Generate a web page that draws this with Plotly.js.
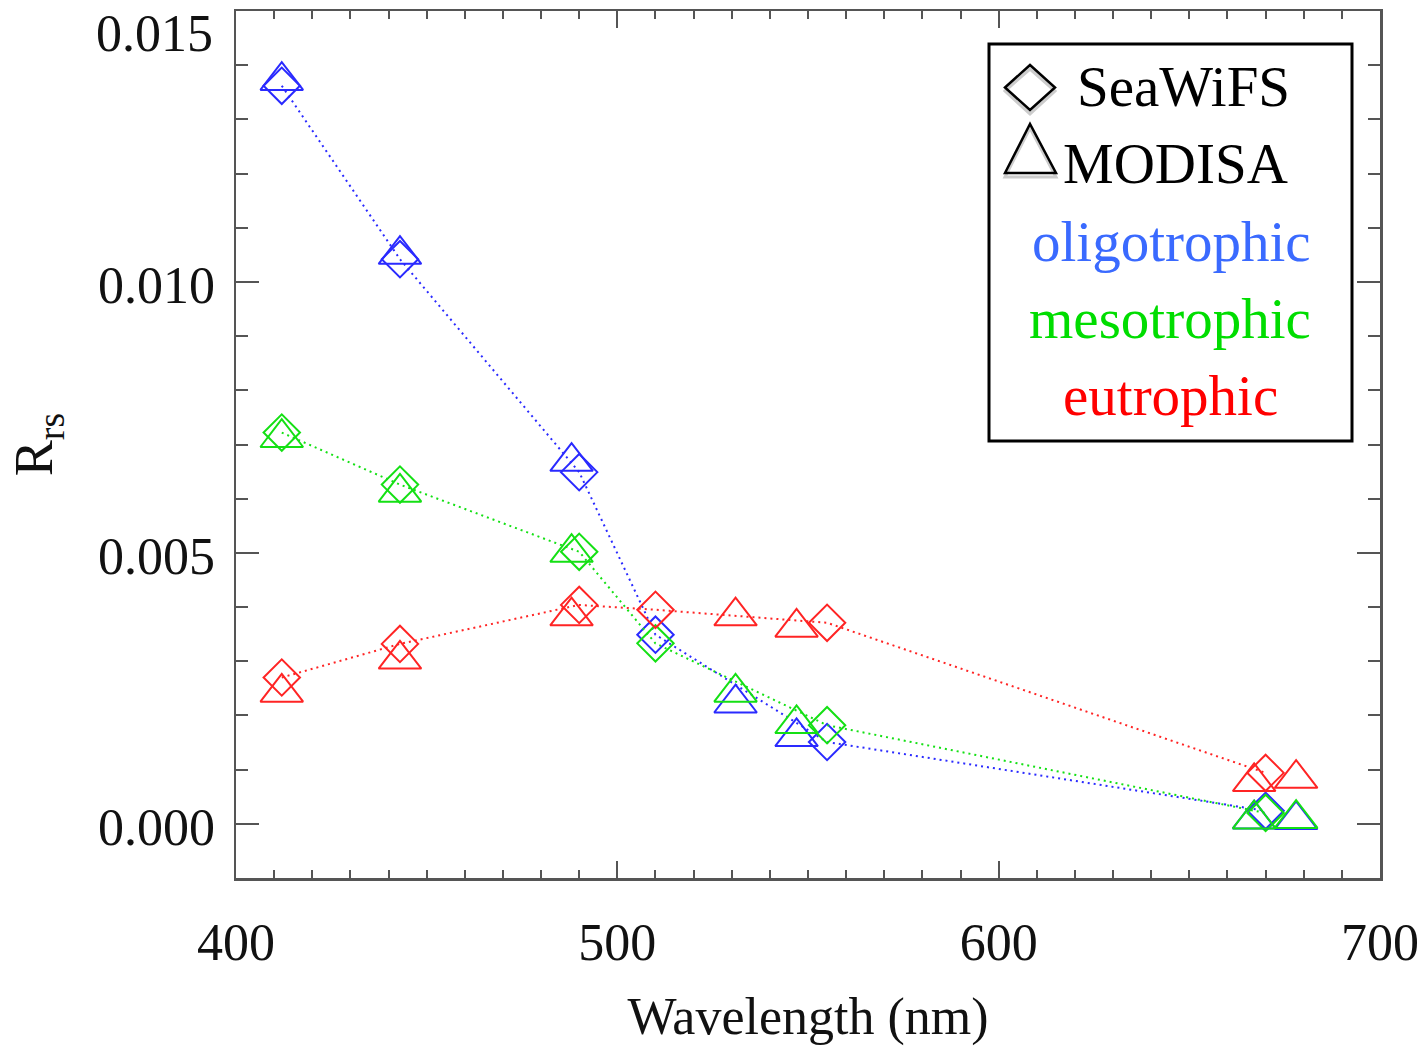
<!DOCTYPE html>
<html>
<head>
<meta charset="utf-8">
<script src="https://cdn.plot.ly/plotly-3.0.1.min.js"></script>
<style>html,body{margin:0;padding:0;background:#fff;}#chart{width:1428px;height:1046px;}</style>
</head>
<body>
<div id="chart"></div>
<script>
// ---- data ----
const wavelengthSeaWiFS = [412, 443, 490, 510, 555, 670];
const wavelengthMODISA  = [412, 443, 488, 531, 547, 667, 678];

const seawifsOligotrophic = [0.01362, 0.01042, 0.00649, 0.00349, 0.00151, 0.00024];
const seawifsMesotrophic  = [0.00722, 0.00626, 0.00502, 0.00333, 0.00182, 0.00020];
const seawifsEutrophic    = [0.00270, 0.00332, 0.00404, 0.00395, 0.00371, 0.00094];

const modisaOligotrophic = [0.01380, 0.01059, 0.00677, 0.00231, 0.00169, 0.00017, 0.00016];
const modisaMesotrophic  = [0.00721, 0.00620, 0.00509, 0.00251, 0.00193, 0.00017, 0.00018];
const modisaEutrophic    = [0.00251, 0.00312, 0.00392, 0.00392, 0.00371, 0.00086, 0.00092];

const classNames = ['oligotrophic', 'mesotrophic', 'eutrophic'];
const sensorNames = ['SeaWiFS', 'MODISA'];
const yTickValues = [0.000, 0.005, 0.010];
const yTickLabels = ['0.000', '0.005', '0.010'];
const yTopTickValue = 0.015;
const yTopTickLabel = '0.015';
const xTickValues = [400, 500, 600, 700];
const xTickLabels = ['400', '500', '600', '700'];

// ---- styling / layout ----
const markerColors = ['#2a2aff', '#14e014', '#ff2424'];
const textColors = ['#3a6aff', '#00dd00', '#ff0000'];
const FONT = '"Liberation Serif", "Times New Roman", serif';
const axisGray = '#555555';

const FIG_W = 1428, FIG_H = 1046;
const M = {l: 236, r: 48, t: 11, b: 168};
const PW = FIG_W - M.l - M.r, PH = FIG_H - M.t - M.b;
const px = v => (v - M.l) / PW;
const py = v => (FIG_H - M.b - v) / PH;

const xRange = [400, 700];
const yRange = [-0.001, 0.015];
const diaSize = 28, triSize = 37;
// Plotly's triangle is centred on its centroid; shift so the shape's box middle sits on the value
const triShift = (triSize / 8) * (yRange[1] - yRange[0]) / PH;

const sw = [seawifsOligotrophic, seawifsMesotrophic, seawifsEutrophic];
const mo = [modisaOligotrophic, modisaMesotrophic, modisaEutrophic];

const traces = [];
for (let i = 0; i < 3; i++) {
  traces.push({
    type: 'scatter', mode: 'lines+markers', name: sensorNames[0] + ' ' + classNames[i],
    x: wavelengthSeaWiFS, y: sw[i], xaxis: 'x', yaxis: 'y',
    line: {color: markerColors[i], width: 2, dash: '2px,4px'},
    marker: {symbol: 'diamond-open', size: diaSize, color: markerColors[i], line: {width: 2, color: markerColors[i]}},
    cliponaxis: false, showlegend: false, hoverinfo: 'x+y'
  });
  traces.push({
    type: 'scatter', mode: 'markers', name: sensorNames[1] + ' ' + classNames[i],
    x: wavelengthMODISA, y: mo[i], xaxis: 'x', yaxis: 'y2',
    marker: {symbol: 'triangle-up-open', size: triSize, color: markerColors[i], line: {width: 2, color: markerColors[i]}},
    cliponaxis: false, showlegend: false, hoverinfo: 'x+y'
  });
}

const tickFont = {family: FONT, size: 52, color: '#111'};

const shapes = [
  // legend box
  {type: 'rect', xref: 'paper', yref: 'paper', x0: px(989), x1: px(1352), y0: py(44), y1: py(441),
   line: {color: '#000', width: 3}, fillcolor: 'rgba(255,255,255,0)', layer: 'above'},
  // legend diamond (shadow + outline)
  {type: 'path', xref: 'paper', yref: 'paper', layer: 'above',
   path: `M${px(1005)},${py(91)} L${px(1030)},${py(69)} L${px(1055)},${py(91)} L${px(1030)},${py(114)} Z`,
   line: {color: '#cccccc', width: 3}},
  {type: 'path', xref: 'paper', yref: 'paper', layer: 'above',
   path: `M${px(1005)},${py(87.5)} L${px(1030)},${py(65)} L${px(1055)},${py(87.5)} L${px(1030)},${py(110)} Z`,
   line: {color: '#000', width: 2.5}},
  // legend triangle (shadow + outline)
  {type: 'path', xref: 'paper', yref: 'paper', layer: 'above',
   path: `M${px(1005)},${py(177)} L${px(1030)},${py(128)} L${px(1056)},${py(177)} Z`,
   line: {color: '#cccccc', width: 3}},
  {type: 'path', xref: 'paper', yref: 'paper', layer: 'above',
   path: `M${px(1005)},${py(173)} L${px(1030)},${py(124)} L${px(1056)},${py(173)} Z`,
   line: {color: '#000', width: 2.5}}
];

const legFont = (c) => ({family: FONT, size: 57, color: c});
const annotations = [
  {xref: 'paper', yref: 'paper', x: px(1075), y: py(86), xanchor: 'left', yanchor: 'middle',
   text: sensorNames[0], showarrow: false, font: legFont('#000')},
  {xref: 'paper', yref: 'paper', x: px(1061), y: py(163), xanchor: 'left', yanchor: 'middle',
   text: sensorNames[1], showarrow: false, font: legFont('#000')},
  {xref: 'paper', yref: 'paper', x: px(1171), y: py(241), xanchor: 'center', yanchor: 'middle',
   text: classNames[0], showarrow: false, font: legFont(textColors[0])},
  {xref: 'paper', yref: 'paper', x: px(1170), y: py(318), xanchor: 'center', yanchor: 'middle',
   text: classNames[1], showarrow: false, font: legFont(textColors[1])},
  {xref: 'paper', yref: 'paper', x: px(1170), y: py(395), xanchor: 'center', yanchor: 'middle',
   text: classNames[2], showarrow: false, font: legFont(textColors[2])},
  // top y tick label, drawn lower than its tick as in the reference
  {xref: 'paper', yref: 'y', x: 0, y: yTopTickValue, xanchor: 'right', yanchor: 'middle',
   xshift: -21, yshift: -22, text: yTopTickLabel, showarrow: false, font: tickFont}
];

const layout = {
  width: FIG_W, height: FIG_H,
  margin: M,
  paper_bgcolor: '#fff', plot_bgcolor: '#fff',
  showlegend: false,
  font: {family: FONT, color: '#111'},
  xaxis: {
    range: xRange, tickmode: 'array', tickvals: xTickValues, ticktext: xTickLabels,
    ticks: 'inside', ticklen: 17, tickwidth: 2, tickcolor: axisGray,
    minor: {dtick: 10, tick0: 400, ticks: 'inside', ticklen: 8, tickwidth: 2, tickcolor: axisGray, showgrid: false},
    showline: true, linecolor: axisGray, linewidth: 2.5, mirror: 'ticks',
    showgrid: false, zeroline: false, tickfont: tickFont, ticklabelstandoff: 17,
    title: {text: 'Wavelength (nm)', font: {family: FONT, size: 52, color: '#111'}, standoff: 43}
  },
  yaxis: {
    range: yRange, tickmode: 'array', tickvals: yTickValues, ticktext: yTickLabels,
    ticks: 'inside', ticklen: 23, tickwidth: 2, tickcolor: axisGray,
    minor: {dtick: 0.001, tick0: 0, ticks: 'inside', ticklen: 12, tickwidth: 2, tickcolor: axisGray, showgrid: false},
    showline: true, linecolor: axisGray, linewidth: 2.5, mirror: 'ticks',
    showgrid: false, zeroline: false, tickfont: tickFont, ticklabelstandoff: 8, ticklabelshift: 3,
    title: {text: 'R<sub>rs</sub>', font: {family: FONT, size: 54, color: '#111'}, standoff: 28}
  },
  yaxis2: {
    overlaying: 'y', range: [yRange[0] + triShift, yRange[1] + triShift], visible: false,
    showgrid: false, zeroline: false, fixedrange: true
  },
  shapes: shapes,
  annotations: annotations
};

Plotly.newPlot('chart', traces, layout, {displayModeBar: false, staticPlot: true});
</script>
</body>
</html>
